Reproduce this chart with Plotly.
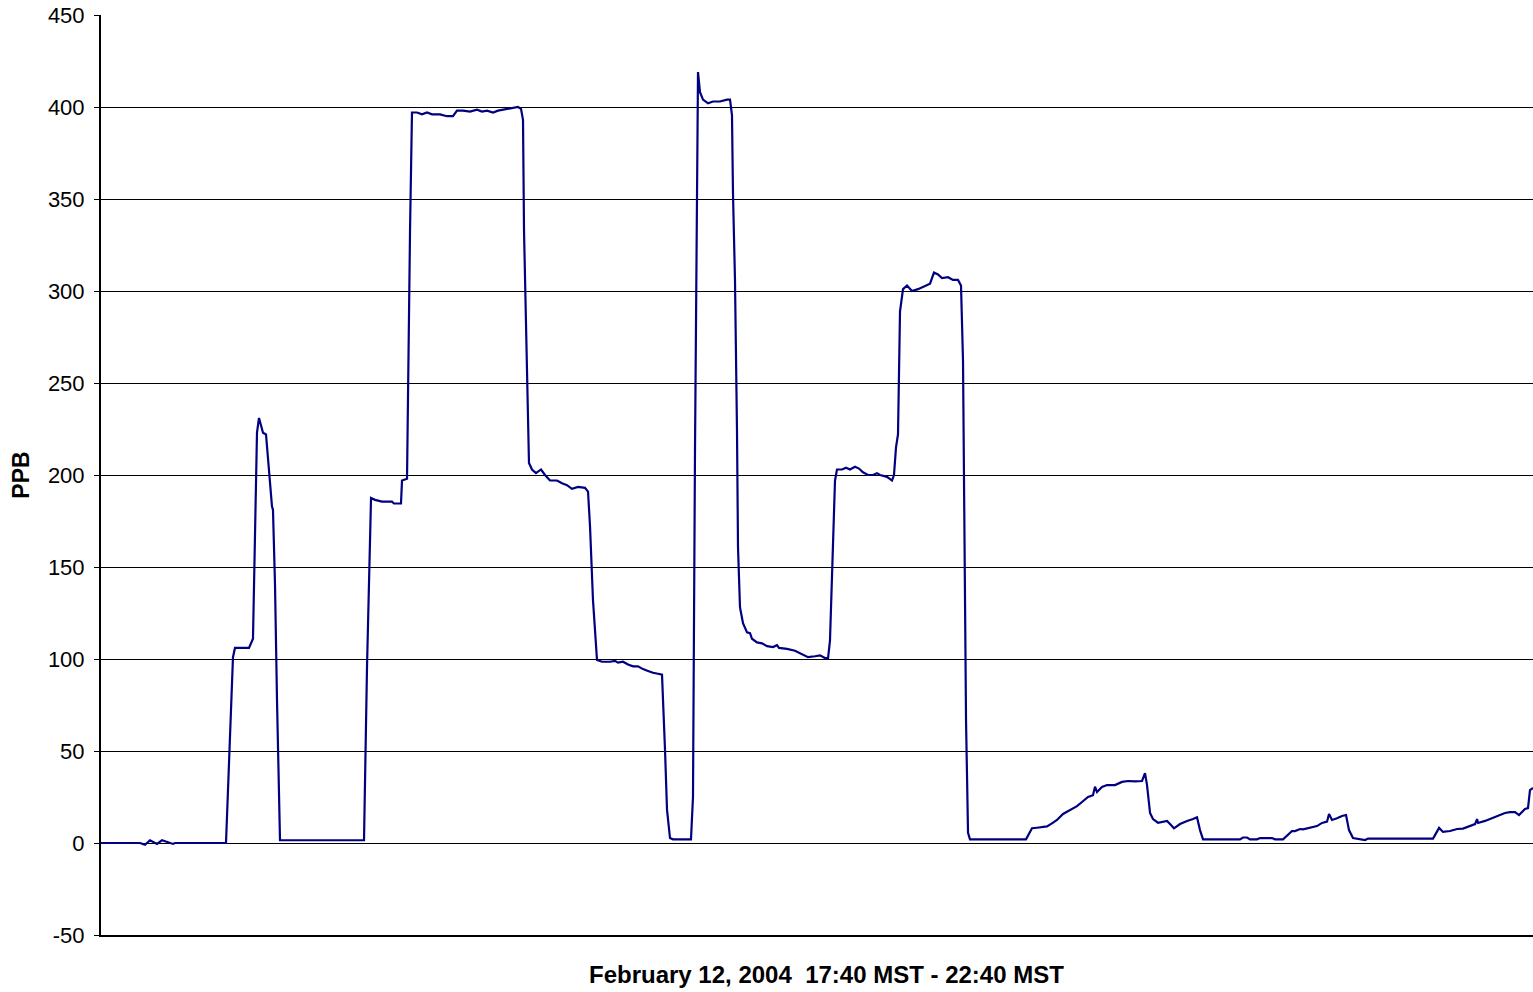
import plotly.graph_objects as go

# Ozone concentration, minutes after 17:40 MST
minutes = [
    0, 8.17, 9.22, 10.27, 11.73, 12.78, 15.08, 15.50, 26.19, 27.65, 28.07, 31.01,
    31.84, 32.68, 33.10, 33.94, 34.57, 34.99, 35.82, 36.03, 36.45, 36.87, 37.50,
    55.10, 55.73, 56.57, 57.40, 58.87, 60.96, 61.38, 62.85, 63.06, 64.11, 64.74,
    65.15, 66.20, 67.25, 68.30, 69.34, 71.02, 72.49, 73.74, 74.58, 75.84, 77.31,
    78.77, 79.82, 80.87, 82.12, 83.17, 85.06, 86.31, 87.36, 87.99, 88.41, 88.62,
    89.66, 90.29, 91.13, 92.18, 93.02, 94.06, 95.53, 96.58, 97.63, 98.67, 99.93,
    101.40, 102.03, 102.45, 103.07, 103.91, 104.96, 106.64, 107.68, 108.31, 109.36,
    110.41, 111.45, 112.50, 113.55, 114.60, 115.64, 116.69, 117.53, 118.16, 118.58,
    119.20, 119.83, 123.60, 124.02, 124.44, 125.07, 125.49, 126.12, 127.17, 128.21,
    129.68, 131.15, 131.78, 132.19, 132.40, 132.82, 133.24, 133.45, 133.87, 134.50,
    135.34, 135.97, 136.38, 137.43, 138.48, 139.53, 140.78, 141.62, 142.04, 143.72,
    145.39, 146.44, 148.12, 149.58, 150.63, 151.68, 152.31, 152.72, 153.35, 153.77,
    154.19, 155.24, 156.08, 156.91, 157.96, 158.80, 159.64, 160.68, 161.73, 162.57,
    163.20, 164.67, 165.71, 166.13, 166.55, 166.97, 167.39, 168.02, 168.86, 169.90,
    171.16, 172.63, 173.68, 174.51, 175.35, 176.19, 177.45, 178.49, 179.54, 180.17,
    180.59, 181.01, 181.22, 181.64, 182.05, 193.79, 195.04, 196.09, 197.14, 198.19,
    199.23, 200.28, 201.54, 203.00, 204.47, 205.52, 206.78, 207.82, 208.24, 208.66,
    209.71, 210.76, 212.43, 213.90, 215.16, 216.62, 218.09, 218.72, 219.14, 219.77,
    220.39, 221.44, 222.49, 223.33, 223.96, 224.79, 226.05, 227.52, 228.77, 229.61,
    230.24, 230.87, 238.62, 239.25, 240.09, 240.72, 242.18, 242.81, 245.33, 245.95,
    247.63, 248.47, 249.51, 250.14, 251.19, 251.82, 253.28, 254.75, 255.80, 256.85,
    257.27, 257.89, 258.94, 259.99, 260.83, 261.45, 262.29, 263.76, 264.81, 265.44,
    279.06, 280.32, 281.15, 282.62, 284.09, 285.34, 286.81, 287.86, 288.28, 288.49,
    289.95, 291.42, 292.68, 294.13, 295.18, 296.23, 297.07, 298.32, 298.95, 299.37,
    300.00,
]

ppb = [
    0, 0, -1, 1.5, -0.5, 1.5, -0.5, 0, 0, 101, 106, 106,
    111, 223, 231, 223, 222, 208, 183, 181, 141, 78, 1.5,
    1.5, 96, 187.5, 186.5, 185.5, 185.5, 184.5, 184.5, 197, 198, 333,
    397, 397, 396, 397, 396, 396, 395, 395, 398, 398, 397.5,
    398.5, 397.5, 398, 397, 398, 399, 399.5, 400, 399, 393, 333,
    206.5, 203, 201, 203, 200, 197, 197, 195.5, 194.5, 192.5, 193.5,
    193, 191, 172, 132, 99.5, 98.5, 98.5, 99, 98, 98.5,
    97, 96, 96, 94.5, 93.5, 92.5, 92, 91.5, 50.5, 18,
    2.7, 2, 2, 25, 213, 419, 408, 404, 402, 403,
    403, 404, 404, 395.5, 353, 306, 224, 161, 128, 119.5,
    114.5, 114, 111, 109, 108.5, 107, 106.5, 107.5, 106, 105.5,
    104.5, 103, 101, 101.5, 102, 100.5, 100.5, 110, 161, 197,
    203, 203, 204, 203, 204.5, 203.5, 201.5, 200, 200, 201,
    200, 199, 197, 200, 215, 222, 289, 301, 303, 300,
    301, 303, 304, 310, 309, 307, 307.5, 306, 306, 303,
    262, 132, 67, 5.5, 2, 2, 8, 8.3, 8.8, 9,
    10.7, 12.5, 15.8, 18, 20, 22.3, 25, 26, 30.6, 27.7,
    30.4, 31.5, 31.5, 33.2, 33.7, 33.5, 33.7, 38, 31.5, 16.3,
    13, 11, 11.4, 12, 10.3, 8, 10.3, 12, 13, 14,
    7, 2, 2, 3, 3, 2, 2, 2.7, 2.7, 2,
    2, 3.8, 6.5, 6.5, 7.6, 7.4, 8.2, 9.2, 10.9, 11.6,
    15.8, 12.5, 13.4, 14.7, 15.2, 7, 2.7, 2.2, 1.6, 2.4,
    2.4, 8.2, 6, 6.5, 7.6, 7.8, 9.2, 10.3, 13, 10.9,
    12, 13.4, 14.7, 16.3, 16.8, 16.8, 15.2, 18.5, 19, 28.8,
    29.9,
]

y_ticks = [-50, 0, 50, 100, 150, 200, 250, 300, 350, 400, 450]
y_tick_labels = ["-50", "0", "50", "100", "150", "200", "250", "300", "350", "400", "450"]

x_title = "February 12, 2004\u00a0\u00a017:40 MST - 22:40 MST"
y_title = "PPB"

FONT = "Liberation Sans, Arial, sans-serif"

fig = go.Figure(
    go.Scatter(
        x=minutes,
        y=ppb,
        mode="lines",
        line=dict(color="#000080", width=2.2),
        hoverinfo="skip",
    )
)

fig.update_layout(
    width=1533,
    height=992,
    margin=dict(l=101, r=0, t=15, b=57),
    paper_bgcolor="white",
    plot_bgcolor="white",
    showlegend=False,
    font=dict(family=FONT, color="black"),
    annotations=[
        dict(
            text=f"<b>{x_title}</b>",
            xref="paper", yref="paper",
            x=0.5063, y=-0.0424,
            xanchor="center", yanchor="middle",
            showarrow=False,
            font=dict(size=24, family=FONT, color="black"),
        )
    ],
)

fig.update_xaxes(
    range=[0, 300],
    showticklabels=False,
    ticks="",
    showgrid=False,
    zeroline=False,
    showline=True,
    linecolor="black",
    linewidth=2,
)

fig.update_yaxes(
    range=[-50, 450],
    tickvals=y_ticks,
    ticktext=y_tick_labels,
    ticks="outside",
    ticklen=5,
    tickwidth=1,
    tickcolor="black",
    ticklabelstandoff=5,
    tickfont=dict(size=22, family=FONT, color="black"),
    showgrid=True,
    gridcolor="black",
    gridwidth=1,
    zeroline=False,
    showline=True,
    linecolor="black",
    linewidth=2,
    title=dict(
        text=f"<b>{y_title}</b>",
        font=dict(size=23, family=FONT, color="black"),
        standoff=12,
    ),
)

fig.write_html("out.html")
